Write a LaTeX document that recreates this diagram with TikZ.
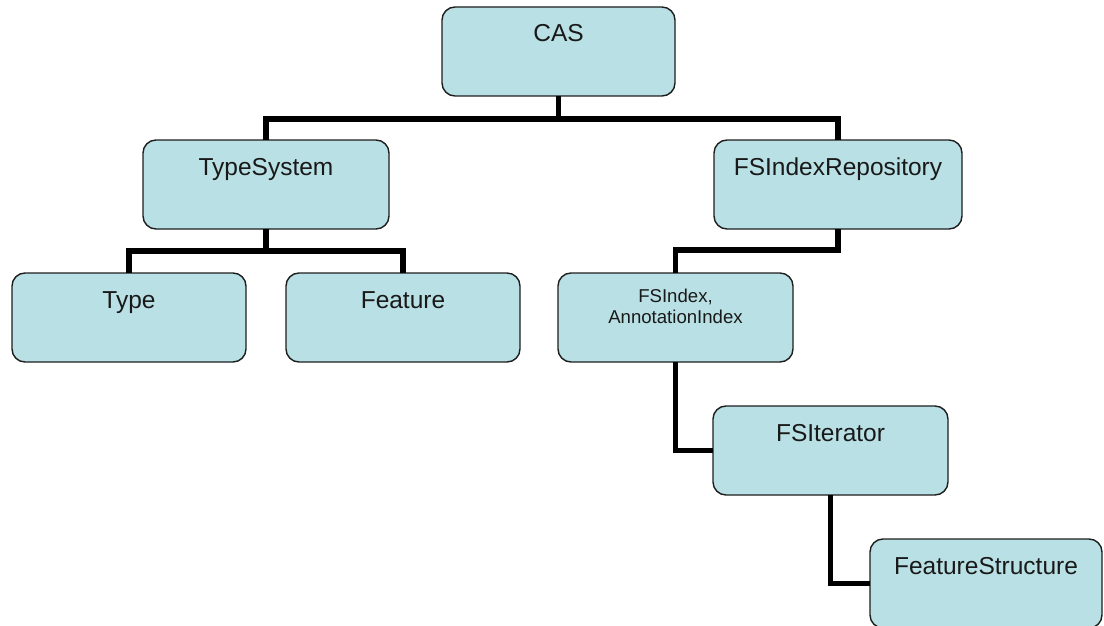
\documentclass[tikz,border=0pt]{standalone}
\usepackage{fontspec}
\setmainfont{Liberation Sans}
\usetikzlibrary{positioning}
\definecolor{boxfill}{RGB}{185,224,228}
\definecolor{boxline}{RGB}{30,30,30}
\definecolor{txt}{RGB}{25,25,25}
\begin{document}
\begin{tikzpicture}[x=1pt,y=-1pt,
  box/.style={draw=boxline, line width=1.4pt, fill=boxfill, rounded corners=13pt,
    inner sep=0pt, outer sep=0pt, minimum height=89pt, anchor=north west},
  lbl/.style={anchor=base, text=txt, inner sep=0pt, font=\fontsize{24.5}{29}\selectfont},
  slbl/.style={anchor=base, text=txt, inner sep=0pt, font=\fontsize{18.6}{22}\selectfont},
  conn/.style={line width=5.5pt, line join=miter, line cap=butt, black}]
\useasboundingbox (0,0) rectangle (1104,626);
\node[box, minimum width=233pt, label={[lbl,yshift=-35pt]north:CAS}] (cas) at (442,7) {};
\node[box, minimum width=246pt, label={[lbl,yshift=-35pt]north:TypeSystem}] (ts) at (143,140) {};
\node[box, minimum width=248pt, label={[lbl,yshift=-35pt]north:FSIndexRepository}] (fsir) at (714,140) {};
\node[box, minimum width=234pt, label={[lbl,yshift=-35pt]north:Type}] (type) at (12,273) {};
\node[box, minimum width=234pt, label={[lbl,yshift=-35pt]north:Feature}] (feat) at (286,273) {};
\node[box, minimum width=235pt, label={[slbl,yshift=-29pt]north:{FSIndex,}}, label={[slbl,yshift=-50pt]north:AnnotationIndex}] (fsi) at (558,273) {};
\node[box, minimum width=235pt, label={[lbl,yshift=-35pt]north:FSIterator}] (fsit) at (713,406) {};
\node[box, minimum width=232pt, label={[lbl,yshift=-35pt]north:FeatureStructure}] (fs) at (870,539) {};
\draw[conn] (cas.south) -- ++(0,23) coordinate (b1) -| (ts.north);
\draw[conn] (b1) -| (fsir.north);
\draw[conn] (ts.south) -- ++(0,22) coordinate (b2) -| (type.north);
\draw[conn] (b2) -| (feat.north);
\draw[conn] (fsir.south) -- ++(0,21) -| (fsi.north);
\draw[conn] (fsi.south) |- (fsit.west);
\draw[conn] (fsit.south) |- (fs.west);
\end{tikzpicture}
\end{document}
